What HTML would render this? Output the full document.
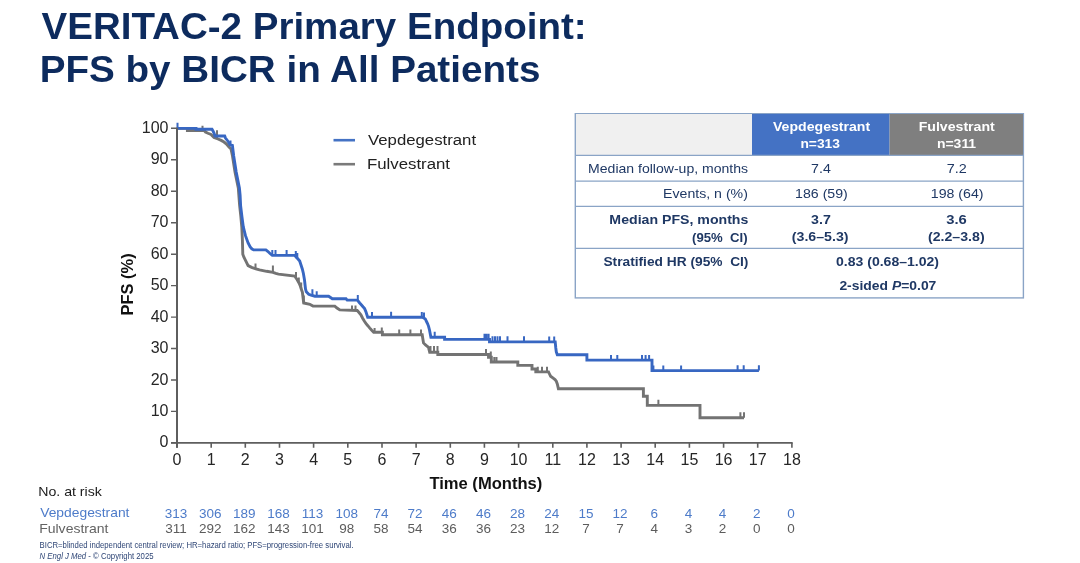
<!DOCTYPE html>
<html><head><meta charset="utf-8"><title>VERITAC-2 Primary Endpoint</title>
<style>
html,body{margin:0;padding:0;background:#fff;}
body{width:1080px;height:563px;overflow:hidden;}
svg{display:block;filter:blur(0.4px);font-family:"Liberation Sans",Arial,sans-serif;}
</style></head><body>
<svg width="1080" height="563" viewBox="0 0 1080 563">
<rect width="1080" height="563" fill="#fff"/>
<text x="41.50" y="39" font-size="37" fill="#0d2b5e" textLength="545.18" lengthAdjust="spacingAndGlyphs" font-weight="bold">VERITAC-2 Primary Endpoint:</text>
<text x="39.71" y="81.5" font-size="37" fill="#0d2b5e" textLength="500.66" lengthAdjust="spacingAndGlyphs" font-weight="bold">PFS by BICR in All Patients</text>
<!-- table -->
<rect x="575.3" y="113.7" width="448.1" height="184.2" fill="#fff" stroke="#8aa4c6" stroke-width="1.4"/>
<rect x="576" y="114" width="176" height="41" fill="#f0f0f0"/>
<rect x="752" y="114" width="137.6" height="41" fill="#4472c4"/>
<rect x="889.6" y="114" width="133.4" height="41" fill="#7f7f7f"/>
<g stroke="#8aa4c6" stroke-width="1.3">
<line x1="575.5" y1="155.3" x2="1023.5" y2="155.3"/>
<line x1="575.5" y1="181.2" x2="1023.5" y2="181.2"/>
<line x1="575.5" y1="206.3" x2="1023.5" y2="206.3"/>
<line x1="575.5" y1="248.4" x2="1023.5" y2="248.4"/>
</g>
<text x="773.00" y="130.9" font-size="13" fill="#fff" textLength="97.14" lengthAdjust="spacingAndGlyphs" font-weight="bold">Vepdegestrant</text>
<text x="800.44" y="148" font-size="13" fill="#fff" textLength="39.51" lengthAdjust="spacingAndGlyphs" font-weight="bold">n=313</text>
<text x="918.71" y="130.7" font-size="13" fill="#fff" textLength="76.07" lengthAdjust="spacingAndGlyphs" font-weight="bold">Fulvestrant</text>
<text x="936.93" y="148.1" font-size="13" fill="#fff" textLength="39.23" lengthAdjust="spacingAndGlyphs" font-weight="bold">n=311</text>
<text x="588.09" y="173" font-size="12.6" fill="#1f3864" textLength="159.97" lengthAdjust="spacingAndGlyphs">Median follow-up, months</text>
<text x="663.08" y="198.3" font-size="12.6" fill="#1f3864" textLength="84.79" lengthAdjust="spacingAndGlyphs">Events, n (%)</text>
<text x="609.38" y="224.2" font-size="12.6" fill="#1f3864" textLength="138.99" lengthAdjust="spacingAndGlyphs" font-weight="bold">Median PFS, months</text>
<text x="692.06" y="241.5" font-size="12.6" fill="#1f3864" textLength="55.54" lengthAdjust="spacingAndGlyphs" font-weight="bold">(95%&#160; CI)</text>
<text x="603.41" y="265.9" font-size="12.6" fill="#1f3864" textLength="145.05" lengthAdjust="spacingAndGlyphs" font-weight="bold">Stratified HR (95%&#160; CI)</text>
<text x="811.08" y="173.1" font-size="12.6" fill="#1f3864" textLength="19.71" lengthAdjust="spacingAndGlyphs">7.4</text>
<text x="946.76" y="173.1" font-size="12.6" fill="#1f3864" textLength="20.03" lengthAdjust="spacingAndGlyphs">7.2</text>
<text x="795.08" y="198.1" font-size="12.6" fill="#1f3864" textLength="52.76" lengthAdjust="spacingAndGlyphs">186 (59)</text>
<text x="930.78" y="198.1" font-size="12.6" fill="#1f3864" textLength="52.76" lengthAdjust="spacingAndGlyphs">198 (64)</text>
<text x="811.08" y="224.2" font-size="12.6" fill="#1f3864" textLength="19.71" lengthAdjust="spacingAndGlyphs" font-weight="bold">3.7</text>
<text x="946.23" y="224.2" font-size="12.6" fill="#1f3864" textLength="20.58" lengthAdjust="spacingAndGlyphs" font-weight="bold">3.6</text>
<text x="791.77" y="241.3" font-size="12.6" fill="#1f3864" textLength="56.78" lengthAdjust="spacingAndGlyphs" font-weight="bold">(3.6–5.3)</text>
<text x="927.98" y="241.3" font-size="12.6" fill="#1f3864" textLength="56.68" lengthAdjust="spacingAndGlyphs" font-weight="bold">(2.2–3.8)</text>
<text x="835.98" y="266.1" font-size="12.6" fill="#1f3864" textLength="103.10" lengthAdjust="spacingAndGlyphs" font-weight="bold">0.83 (0.68–1.02)</text>
<text x="839.40" y="289.5" font-size="12.6" fill="#1f3864" textLength="96.97" lengthAdjust="spacingAndGlyphs" font-weight="bold">2-sided <tspan font-style="italic">P</tspan>=0.07</text>
<!-- legend -->
<line x1="333.5" y1="140.2" x2="355" y2="140.2" stroke="#4472c4" stroke-width="2.6"/>
<line x1="333.5" y1="164.2" x2="355" y2="164.2" stroke="#7a7a7a" stroke-width="2.6"/>
<text x="368.00" y="145.2" font-size="15.4" fill="#222" textLength="108.09" lengthAdjust="spacingAndGlyphs">Vepdegestrant</text>
<text x="366.91" y="169.1" font-size="15.4" fill="#222" textLength="83.15" lengthAdjust="spacingAndGlyphs">Fulvestrant</text>
<!-- curves -->
<g fill="none" stroke-width="2.9" stroke-linejoin="miter">
<path d="M177.0,128.4 L187.4,128.4 L187.4,130.5 L204.3,130.5 L205.5,132.0 L208.0,133.3 L211.0,134.5 L214.0,137.5 L218.0,139.0 L221.2,140.4 L224.0,142.0 L226.5,144.0 L229.0,147.0 L231.0,149.0 L232.5,156.0 L235.0,172.0 L238.3,188.0 L239.6,205.0 L240.8,216.0 L241.8,227.0 L242.4,240.0 L242.8,254.2 L243.8,257.0 L246.0,261.3 L248.1,265.6 L251.6,267.4 L255.9,268.8 L259.5,269.9 L266.6,271.3 L273.0,272.3 L275.8,273.4 L278.5,274.1 L294.7,276.0 L296.0,278.0 L297.2,279.7 L299.0,283.0 L300.3,286.0 L301.5,289.7 L302.4,292.4 L303.7,303.0 L309.9,304.3 L311.5,305.2 L313.0,306.1 L334.8,306.1 L337.0,308.0 L339.8,309.9 L357.2,310.5 L359.0,312.5 L360.9,314.8 L362.5,318.0 L364.3,321.0 L365.9,323.5 L367.8,325.7 L369.6,327.9 L371.5,330.0 L373.7,332.3 L382.4,332.3 L382.4,334.8 L422.2,334.8 L422.7,338.0 L423.5,342.9 L425.5,345.0 L428.5,347.3 L429.7,352.2 L437.8,352.2 L437.8,354.5 L488.5,354.5 L488.5,357.3 L491.3,357.3 L491.3,362.0 L517.8,362.0 L517.8,365.4 L532.0,365.4 L532.0,369.0 L535.8,369.0 L535.8,371.9 L548.5,371.9 L549.5,374.0 L550.6,376.2 L553.5,378.3 L555.0,379.5 L556.3,381.2 L557.3,384.0 L558.4,388.7 L643.4,388.7 L643.4,396.2 L647.3,396.2 L647.3,405.4 L700.0,405.4 L700.0,417.8 L744.0,417.8" stroke="#737373"/>
<path d="M202.5,125.8 V130.5 M217.0,130.3 V138.6 M255.5,263.5 V268.7 M272.9,265.4 V272.3 M296.0,272.0 V278.0 M298.8,277.5 V282.6 M301.2,282.5 V288.8 M303.8,295.5 V303.0 M352.0,305.5 V310.3 M355.5,305.5 V310.4 M374.6,327.9 V332.3 M381.8,327.4 V332.3 M399.2,329.4 V334.8 M410.4,329.4 V334.8 M421.0,329.4 V334.8 M430.5,346.0 V352.2 M434.0,346.0 V352.2 M437.5,346.0 V352.2 M486.0,348.9 V354.5 M490.8,351.5 V357.3 M494.3,357.0 V362.0 M496.5,357.0 V362.0 M537.8,366.8 V371.9 M542.0,366.8 V371.9 M547.0,366.8 V371.9 M658.4,399.7 V405.4 M740.4,412.3 V417.8 M744.0,412.3 V417.8" stroke="#737373" stroke-width="2"/>
<path d="M177.0,128.4 L196.0,128.4 L196.0,129.3 L212.0,129.3 L213.0,131.0 L214.0,133.0 L215.0,136.0 L224.7,136.0 L225.5,138.0 L227.0,140.0 L228.5,142.0 L230.0,145.0 L232.4,145.5 L233.7,156.0 L236.2,172.0 L239.4,188.0 L240.1,195.0 L240.6,205.6 L241.9,216.3 L243.3,226.9 L245.4,235.4 L248.1,242.9 L250.2,247.0 L251.8,248.8 L253.6,249.9 L265.9,249.9 L268.0,251.5 L270.0,253.5 L272.3,255.4 L294.7,255.4 L296.5,257.5 L298.0,259.0 L299.7,261.0 L301.0,265.0 L302.3,269.0 L303.4,273.5 L304.5,280.0 L305.5,289.0 L306.3,291.8 L308.7,294.3 L311.0,295.2 L314.9,296.2 L328.6,296.2 L330.5,297.5 L332.3,298.7 L346.0,298.7 L347.2,300.1 L357.2,300.1 L358.5,301.5 L359.7,303.0 L361.5,305.0 L363.0,306.8 L364.6,308.6 L366.0,312.0 L367.7,317.2 L422.2,317.2 L423.8,318.0 L425.3,318.9 L426.5,321.5 L427.5,323.5 L428.5,326.1 L429.5,330.0 L430.9,337.3 L444.6,337.3 L444.6,339.4 L489.5,339.4 L489.5,341.9 L555.2,341.9 L555.8,348.0 L556.3,352.0 L557.3,354.8 L586.9,354.8 L586.9,360.1 L652.0,360.1 L652.0,370.6 L758.9,370.6" stroke="#3867c2"/>
<path d="M177.5,122.7 V128.4 M230.5,140.4 V145.1 M272.3,250.0 V255.4 M275.5,250.0 V255.4 M286.6,250.0 V255.4 M295.8,251.0 V256.7 M297.3,253.0 V258.3 M312.4,289.3 V295.6 M316.7,291.2 V296.2 M357.8,295.0 V300.7 M372.0,312.0 V317.2 M391.1,311.8 V317.2 M421.8,312.0 V317.2 M424.0,312.5 V318.1 M434.7,331.7 V337.3 M484.5,333.7 V339.4 M486.5,333.7 V339.4 M488.6,333.7 V339.4 M492.5,336.2 V341.9 M495.0,336.2 V341.9 M497.5,336.2 V341.9 M500.0,336.2 V341.9 M507.5,336.2 V341.9 M524.0,336.2 V341.9 M549.2,336.4 V341.9 M554.2,336.4 V341.9 M611.0,355.0 V360.1 M617.3,355.0 V360.1 M642.0,355.0 V360.1 M645.6,355.0 V360.1 M649.1,355.0 V360.1 M653.4,365.6 V370.6 M663.3,365.6 V370.6 M681.1,365.6 V370.6 M737.6,365.3 V370.6 M743.7,365.3 V370.6 M758.9,365.3 V370.6" stroke="#3867c2" stroke-width="2"/>
</g>
<!-- axes -->
<g stroke="#5e5e5e" fill="none">
<path d="M177.0,127.8 V447.7" stroke-width="2"/>
<path d="M171.0,442.9 H792.7" stroke-width="1.9"/>
<path d="M177.0,442.9 V447.7 M211.2,442.9 V447.7 M245.3,442.9 V447.7 M279.5,442.9 V447.7 M313.6,442.9 V447.7 M347.8,442.9 V447.7 M382.0,442.9 V447.7 M416.1,442.9 V447.7 M450.3,442.9 V447.7 M484.4,442.9 V447.7 M518.6,442.9 V447.7 M552.8,442.9 V447.7 M586.9,442.9 V447.7 M621.1,442.9 V447.7 M655.2,442.9 V447.7 M689.4,442.9 V447.7 M723.6,442.9 V447.7 M757.7,442.9 V447.7 M791.9,442.9 V447.7 " stroke-width="1.6"/>
<path d="M177.0,442.9 H171.0 M177.0,411.4 H171.0 M177.0,380.0 H171.0 M177.0,348.5 H171.0 M177.0,317.1 H171.0 M177.0,285.6 H171.0 M177.0,254.2 H171.0 M177.0,222.7 H171.0 M177.0,191.3 H171.0 M177.0,159.8 H171.0 M177.0,128.3 H171.0 " stroke-width="1.4"/>
</g>
<g fill="#262626" font-size="16" text-anchor="middle"><text x="177.0" y="464.5">0</text><text x="211.2" y="464.5">1</text><text x="245.3" y="464.5">2</text><text x="279.5" y="464.5">3</text><text x="313.6" y="464.5">4</text><text x="347.8" y="464.5">5</text><text x="382.0" y="464.5">6</text><text x="416.1" y="464.5">7</text><text x="450.3" y="464.5">8</text><text x="484.4" y="464.5">9</text><text x="518.6" y="464.5">10</text><text x="552.8" y="464.5">11</text><text x="586.9" y="464.5">12</text><text x="621.1" y="464.5">13</text><text x="655.2" y="464.5">14</text><text x="689.4" y="464.5">15</text><text x="723.6" y="464.5">16</text><text x="757.7" y="464.5">17</text><text x="791.9" y="464.5">18</text></g>
<g fill="#262626" font-size="16" text-anchor="end"><text x="168.5" y="447.4">0</text><text x="168.5" y="415.9">10</text><text x="168.5" y="384.5">20</text><text x="168.5" y="353.0">30</text><text x="168.5" y="321.6">40</text><text x="168.5" y="290.1">50</text><text x="168.5" y="258.7">60</text><text x="168.5" y="227.2">70</text><text x="168.5" y="195.8">80</text><text x="168.5" y="164.3">90</text><text x="168.5" y="132.8">100</text></g>
<text transform="translate(132.7,284.4) rotate(-90)" text-anchor="middle" font-size="16.4" font-weight="bold" fill="#111" textLength="62" lengthAdjust="spacingAndGlyphs">PFS (%)</text>
<text x="429.40" y="488.75" font-size="16" fill="#111" textLength="112.92" lengthAdjust="spacingAndGlyphs" font-weight="bold">Time (Months)</text>
<text x="38.21" y="496.3" font-size="13" fill="#1a1a1a" textLength="63.65" lengthAdjust="spacingAndGlyphs">No. at risk</text>
<text x="40.20" y="517.2" font-size="13.5" fill="#4d7bc9" textLength="89.28" lengthAdjust="spacingAndGlyphs">Vepdegestrant</text>
<text x="39.16" y="532.8" font-size="13.5" fill="#636363" textLength="69.31" lengthAdjust="spacingAndGlyphs">Fulvestrant</text>
<g font-size="13.5" text-anchor="middle">
<g fill="#4d7bc9"><text x="176.0" y="517.6">313</text><text x="210.2" y="517.6">306</text><text x="244.3" y="517.6">189</text><text x="278.5" y="517.6">168</text><text x="312.6" y="517.6">113</text><text x="346.8" y="517.6">108</text><text x="381.0" y="517.6">74</text><text x="415.1" y="517.6">72</text><text x="449.3" y="517.6">46</text><text x="483.4" y="517.6">46</text><text x="517.6" y="517.6">28</text><text x="551.8" y="517.6">24</text><text x="585.9" y="517.6">15</text><text x="620.1" y="517.6">12</text><text x="654.2" y="517.6">6</text><text x="688.4" y="517.6">4</text><text x="722.6" y="517.6">4</text><text x="756.7" y="517.6">2</text><text x="790.9" y="517.6">0</text></g>
<g fill="#5c5c5c"><text x="176.0" y="533">311</text><text x="210.2" y="533">292</text><text x="244.3" y="533">162</text><text x="278.5" y="533">143</text><text x="312.6" y="533">101</text><text x="346.8" y="533">98</text><text x="381.0" y="533">58</text><text x="415.1" y="533">54</text><text x="449.3" y="533">36</text><text x="483.4" y="533">36</text><text x="517.6" y="533">23</text><text x="551.8" y="533">12</text><text x="585.9" y="533">7</text><text x="620.1" y="533">7</text><text x="654.2" y="533">4</text><text x="688.4" y="533">3</text><text x="722.6" y="533">2</text><text x="756.7" y="533">0</text><text x="790.9" y="533">0</text></g>
</g>
<text x="39.58" y="548.1" font-size="8.4" fill="#2f4676" textLength="314.05" lengthAdjust="spacingAndGlyphs">BICR=blinded independent central review; HR=hazard ratio; PFS=progression-free survival.</text>
<text x="39.57" y="559.3" font-size="8.4" fill="#2f4676" textLength="113.98" lengthAdjust="spacingAndGlyphs"><tspan font-style="italic">N Engl J Med</tspan> - © Copyright 2025</text>
</svg>
</body></html>
